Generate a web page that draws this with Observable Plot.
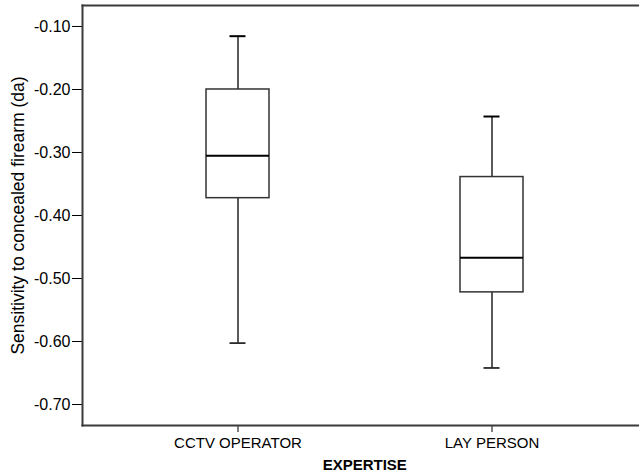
<!DOCTYPE html>
<html>
<head>
<meta charset="utf-8">
<script src="https://cdn.jsdelivr.net/npm/d3@7"></script>
<script src="https://cdn.jsdelivr.net/npm/@observablehq/plot@0.6"></script>
<style>
  html, body { margin: 0; padding: 0; background: #fff; }
  svg { display: block; }
</style>
</head>
<body>
<div id="chart"></div>
<script>
const groups = ["CCTV OPERATOR", "LAY PERSON"];
const whiskerLow = [-0.6025, -0.642];
const q1 = [-0.3725, -0.522];
const median = [-0.305, -0.467];
const q3 = [-0.20, -0.339];
const whiskerHigh = [-0.1154, -0.2429];
const yTicks = [-0.10, -0.20, -0.30, -0.40, -0.50, -0.60, -0.70];

const rows = groups.map((g, i) => ({
  group: g, lo: whiskerLow[i], q1: q1[i], med: median[i], q3: q3[i], hi: whiskerHigh[i]
}));

const chart = Plot.plot({
  width: 639,
  height: 473,
  marginTop: 5,
  marginBottom: 48,
  marginLeft: 82,
  marginRight: -7.5,
  style: { fontFamily: "Arial, 'Liberation Sans', sans-serif", fontSize: "15px", background: "#fff", color: "#000" },
  x: {
    type: "band",
    domain: groups,
    paddingInner: 0.752,
    paddingOuter: 0.487,
    label: "EXPERTISE",
    labelAnchor: "center",
    labelArrow: "none",
    labelOffset: 44,
    tickSize: 7,
    tickPadding: 5
  },
  y: {
    domain: [-0.7333, -0.0667],
    ticks: yTicks,
    tickFormat: d => d.toFixed(2),
    label: "Sensitivity to concealed firearm (da)",
    labelAnchor: "center",
    labelArrow: "none",
    labelOffset: 71,
    tickSize: 10,
    tickPadding: 2
  },
  marks: [
    Plot.ruleX(rows, { x: "group", y1: "lo", y2: "q1", stroke: "#000", strokeWidth: 1.3 }),
    Plot.ruleX(rows, { x: "group", y1: "q3", y2: "hi", stroke: "#000", strokeWidth: 1.3 }),
    Plot.barY(rows, { x: "group", y1: "q1", y2: "q3", fill: "#fff", stroke: "#333", strokeWidth: 1.5 }),
    Plot.tickY(rows, { x: "group", y: "med", stroke: "#000", strokeWidth: 2 }),
    Plot.tickY(rows, { x: "group", y: "lo", stroke: "#000", strokeWidth: 1.5, insetLeft: 23.5, insetRight: 23.5 }),
    Plot.tickY(rows, { x: "group", y: "hi", stroke: "#000", strokeWidth: 2, insetLeft: 23.5, insetRight: 23.5 }),
    Plot.frame({ anchor: "top", stroke: "#3a3a3a", strokeWidth: 2 }),
    Plot.frame({ anchor: "left", stroke: "#3a3a3a", strokeWidth: 2 }),
    Plot.frame({ anchor: "bottom", stroke: "#3a3a3a", strokeWidth: 2 })
  ]
});

const sel = d3.select(chart);
sel.selectAll('[aria-label="x-axis label"]').attr("font-size", "15px").attr("font-weight", "bold");
sel.selectAll('[aria-label="x-axis label"] text').attr("font-weight", "bold");
sel.selectAll('[aria-label="y-axis tick label"]').attr("font-size", "16px");
sel.selectAll('[aria-label="y-axis label"]').attr("font-size", "17.5px");
sel.selectAll('[aria-label="x-axis tick label"]').attr("font-size", "15px");
document.getElementById("chart").appendChild(chart);
</script>
</body>
</html>
